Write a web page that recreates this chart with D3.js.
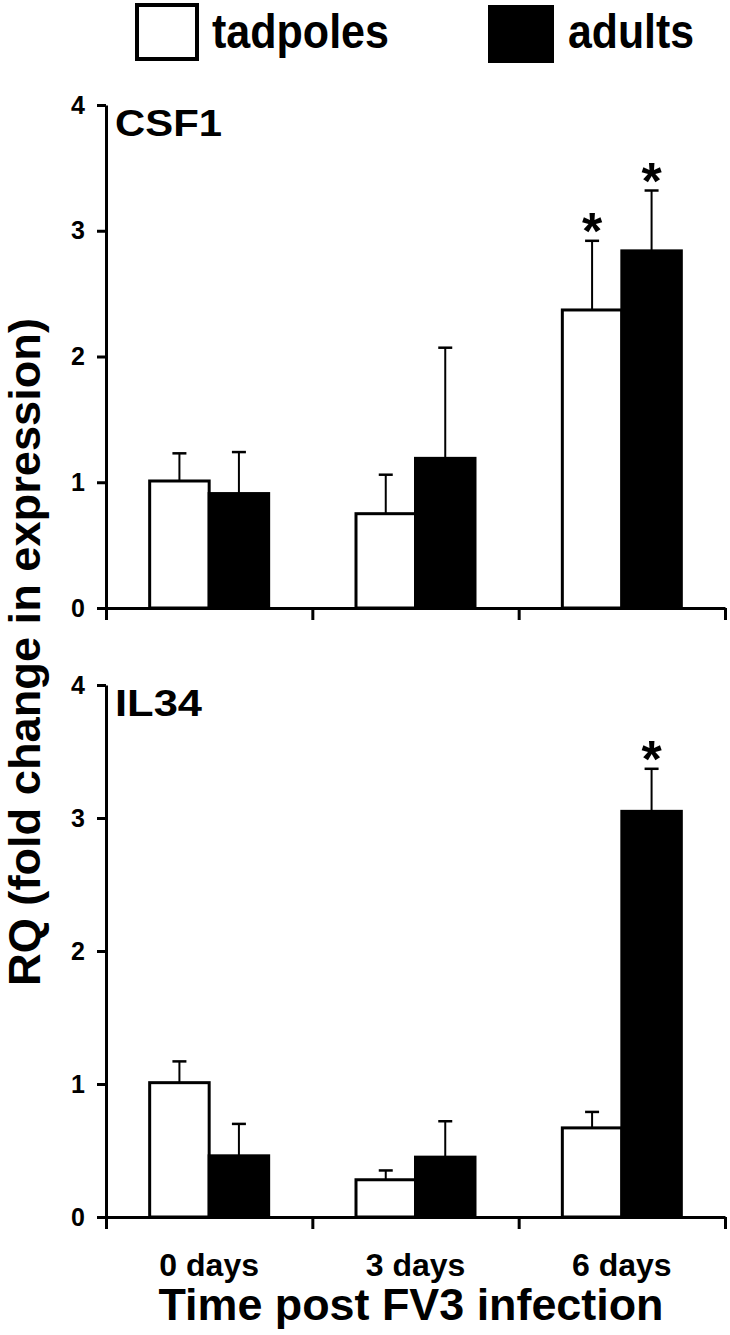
<!DOCTYPE html>
<html>
<head>
<meta charset="utf-8">
<script src="https://cdn.jsdelivr.net/npm/d3@7"></script>
<style>
  body { margin: 0; background: #fff; }
  text { font-family: "Liberation Sans", Arial, sans-serif; font-weight: bold; fill: #000; }
</style>
</head>
<body>
<div id="chart"></div>
<script>
const DAYS = ["0 days", "3 days", "6 days"];
const GROUPS = ["tadpoles", "adults"];

// CSF1 means and SE (upper error only)
const CSF1_TADPOLES = [1.01, 0.75, 2.37];
const CSF1_ADULTS = [0.91, 1.19, 2.84];
const CSF1_TADPOLES_SE = [0.22, 0.31, 0.55];
const CSF1_ADULTS_SE = [0.33, 0.88, 0.48];
const CSF1_STARS = [["6 days", "tadpoles"], ["6 days", "adults"]];

// IL34
const IL34_TADPOLES = [1.01, 0.28, 0.67];
const IL34_ADULTS = [0.46, 0.45, 3.05];
const IL34_TADPOLES_SE = [0.16, 0.07, 0.12];
const IL34_ADULTS_SE = [0.24, 0.27, 0.32];
const IL34_STARS = [["6 days", "adults"]];

const Y_TICKS = [0, 1, 2, 3, 4];

var width = 730, height = 1335;

var svg = d3.select("#chart").append("svg")
  .attr("width", width)
  .attr("height", height);

var x0 = d3.scaleBand().domain(DAYS).range([106, 725]).paddingInner(0).paddingOuter(0);
var x1 = d3.scaleBand().domain(GROUPS).range([0, x0.bandwidth()]).paddingInner(0).paddingOuter(0.734);
var xEdge = d3.scaleLinear().domain([0, DAYS.length]).range(x0.range());
var fill = d3.scaleOrdinal().domain(GROUPS).range(["#fff", "#000"]);

function rows(t, a, tse, ase) {
  var out = [];
  DAYS.forEach(function (d, i) {
    out.push({ day: d, group: "tadpoles", value: t[i], se: tse[i] });
    out.push({ day: d, group: "adults", value: a[i], se: ase[i] });
  });
  return out;
}

function panel(data, stars, yRange, label, labelLen, showX) {
  var y = d3.scaleLinear().domain([0, 4]).range(yRange);
  var g = svg.append("g");

  // x axis (ticks at band edges)
  var xa = g.append("g")
    .attr("transform", "translate(0," + y(0) + ")")
    .call(d3.axisBottom(xEdge).tickValues(d3.range(DAYS.length + 1)).tickFormat("").tickSize(12).tickSizeOuter(0));
  xa.selectAll("path,line").attr("stroke", "#000").attr("stroke-width", 3);

  // y axis
  var ya = g.append("g")
    .attr("transform", "translate(" + x0.range()[0] + ",0)")
    .call(d3.axisLeft(y).tickValues(Y_TICKS).tickFormat(d3.format("d")).tickSize(9).tickSizeOuter(0).tickPadding(12));
  ya.selectAll("path,line").attr("stroke", "#000").attr("stroke-width", 3);
  ya.selectAll("text")
    .style("font-size", "25px")
    .style("font-family", "Liberation Sans, Arial, sans-serif")
    .style("font-weight", "bold");

  // error bars
  var eb = g.selectAll("g.err").data(data).enter().append("g").attr("class", "err");
  eb.append("line")
    .attr("x1", function (d) { return x0(d.day) + x1(d.group) + x1.bandwidth() / 2; })
    .attr("x2", function (d) { return x0(d.day) + x1(d.group) + x1.bandwidth() / 2; })
    .attr("y1", function (d) { return y(d.value); })
    .attr("y2", function (d) { return y(d.value + d.se); })
    .attr("stroke", "#000").attr("stroke-width", 2);
  eb.append("line")
    .attr("x1", function (d) { return x0(d.day) + x1(d.group) + x1.bandwidth() / 2 - 7; })
    .attr("x2", function (d) { return x0(d.day) + x1(d.group) + x1.bandwidth() / 2 + 7; })
    .attr("y1", function (d) { return y(d.value + d.se); })
    .attr("y2", function (d) { return y(d.value + d.se); })
    .attr("stroke", "#000").attr("stroke-width", 2.5);

  // bars
  g.selectAll("rect.bar").data(data).enter().append("rect")
    .attr("class", "bar")
    .attr("x", function (d) { return x0(d.day) + x1(d.group); })
    .attr("y", function (d) { return y(d.value); })
    .attr("width", x1.bandwidth())
    .attr("height", function (d) { return y(0) - y(d.value); })
    .attr("fill", function (d) { return fill(d.group); })
    .attr("stroke", "#000")
    .attr("stroke-width", 3);

  // significance stars
  g.selectAll("text.star").data(stars).enter().append("text")
    .attr("class", "star")
    .attr("x", function (s) { return x0(s[0]) + x1(s[1]) + x1.bandwidth() / 2; })
    .attr("y", function (s) {
      var d = data.find(function (r) { return r.day === s[0] && r.group === s[1]; });
      return y(d.value + d.se) + 8;
    })
    .attr("text-anchor", "middle")
    .style("font-size", "52px")
    .text("*");

  // panel label
  g.append("text")
    .attr("x", 115)
    .attr("y", y(4) + 31)
    .attr("textLength", labelLen)
    .attr("lengthAdjust", "spacingAndGlyphs")
    .style("font-size", "37px")
    .text(label);

  if (showX) {
    g.selectAll("text.xlab").data(DAYS).enter().append("text")
      .attr("class", "xlab")
      .attr("x", function (d) { return x0(d) + x0.bandwidth() / 2; })
      .attr("y", y(0) + 59)
      .attr("text-anchor", "middle")
      .style("font-size", "32px")
      .text(function (d) { return d; });
  }
}

panel(rows(CSF1_TADPOLES, CSF1_ADULTS, CSF1_TADPOLES_SE, CSF1_ADULTS_SE), CSF1_STARS, [608, 105], "CSF1", 107, false);
panel(rows(IL34_TADPOLES, IL34_ADULTS, IL34_TADPOLES_SE, IL34_ADULTS_SE), IL34_STARS, [1217, 685], "IL34", 87, true);

// x title
svg.append("text")
  .attr("x", 411)
  .attr("y", 1320)
  .attr("text-anchor", "middle")
  .attr("textLength", 505)
  .attr("lengthAdjust", "spacingAndGlyphs")
  .style("font-size", "44px")
  .text("Time post FV3 infection");

// y title
svg.append("text")
  .attr("transform", "translate(40,652) rotate(-90)")
  .attr("text-anchor", "middle")
  .attr("textLength", 668)
  .attr("lengthAdjust", "spacingAndGlyphs")
  .style("font-size", "44px")
  .text("RQ (fold change in expression)");

// legend
var legend = svg.append("g");
var legendPos = { tadpoles: [137, 212, 177], adults: [488, 568, 126] };
GROUPS.forEach(function (k) {
  var p = legendPos[k];
  legend.append("rect")
    .attr("x", p[0]).attr("y", 5)
    .attr("width", k === "tadpoles" ? 60 : 66).attr("height", k === "tadpoles" ? 54 : 58)
    .attr("fill", fill(k))
    .attr("stroke", "#000")
    .attr("stroke-width", k === "tadpoles" ? 4 : 0);
  legend.append("text")
    .attr("x", p[1]).attr("y", 48)
    .attr("textLength", p[2])
    .attr("lengthAdjust", "spacingAndGlyphs")
    .style("font-size", "48px")
    .text(k);
});
</script>
</body>
</html>
